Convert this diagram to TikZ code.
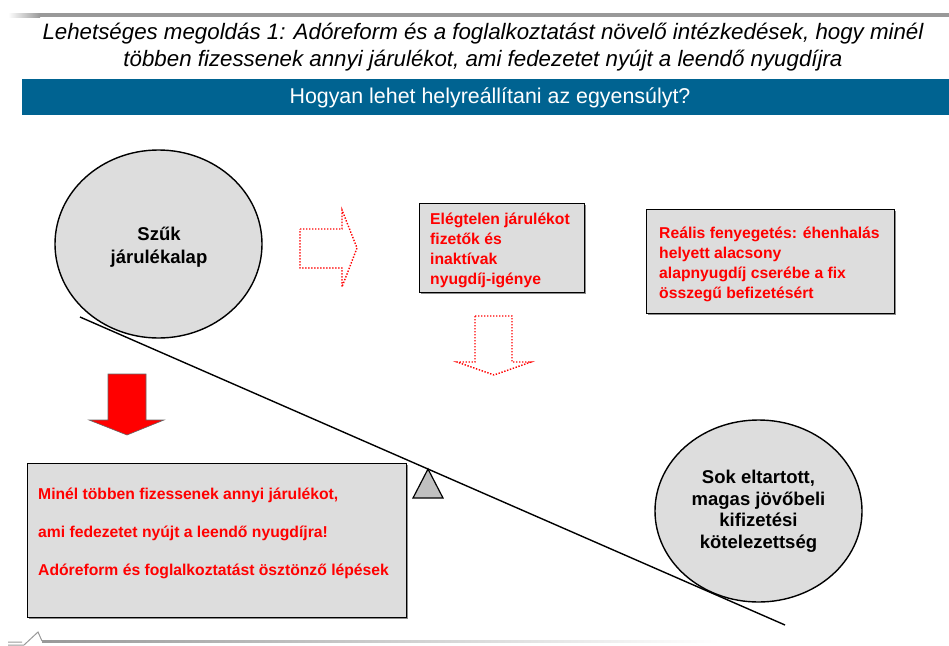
\documentclass[tikz,border=0pt]{standalone}
\usepackage{fontspec}
\setmainfont{Liberation Sans}
\usetikzlibrary{shapes.geometric}
\definecolor{boxgray}{HTML}{DDDDDD}
\definecolor{barblue}{RGB}{0,99,145}
\definecolor{rulegray}{HTML}{999999}
\definecolor{fulcgray}{HTML}{C0C0C0}
\begin{document}
\begin{tikzpicture}[x=1pt,y=-1pt,
  bubble/.style={ellipse,draw=black,line width=1.4pt,fill=boxgray,inner sep=0pt,align=center,
    font=\fontsize{18.5}{21.5}\selectfont\bfseries},
  infobox/.style={draw=black,line width=1.4pt,fill=boxgray,inner sep=0pt,anchor=north west},
  redtext/.style={text=red,font=\fontsize{15.7}{20}\selectfont\bfseries,align=left,anchor=west,inner sep=0pt},
  dotarrow/.style={draw=red,line width=1.4pt,dash pattern=on 1.4pt off 1.6pt},
  shadowbox/.style={fill=black!45}
]
\useasboundingbox (0,0) rectangle (949,645);
% top rule
\shade[left color=white,right color=rulegray] (8,13) rectangle (40,17);
\fill[rulegray] (40,13) rectangle (949,17);
% title
\node (title1) at (483,34) {\fontsize{22.3}{26}\selectfont\itshape Lehetséges megoldás 1: Adóreform és a foglalkoztatást növelő intézkedések, hogy minél};
\node (title2) at (483,61) {\fontsize{22.3}{26}\selectfont\itshape többen fizessenek annyi járulékot, ami fedezetet nyújt a leendő nyugdíjra};
% blue bar
\fill[barblue] (22,79) rectangle (949,115);
\node[text=white] (question) at (490,98) {\fontsize{21.4}{24}\selectfont Hogyan lehet helyreállítani az egyensúlyt?};
% circles
\node[bubble,minimum width=207,minimum height=188] (narrow) at (158.5,244) {};
\node[align=center,font=\fontsize{18.5}{23}\selectfont\bfseries,inner sep=0pt] (narrowtext) at (159,247.5) {Szűk\\járulékalap};
\node[bubble,minimum width=207,minimum height=182] (many) at (758.5,511) {Sok eltartott,\\magas jövőbeli\\kifizetési\\kötelezettség};
% beam and fulcrum
\coordinate (beamL) at (80,317);
\coordinate (beamR) at (785,625);
\draw[line width=1.4pt] (beamL) -- (beamR);
\draw[line width=1.2pt,fill=fulcgray] (428,469) -- (443,498) -- (413,498) -- cycle;
% red solid arrow
\draw[draw=black!60,line width=0.6pt,fill=red] (108,374) -- (146,374) -- (146,420) -- (164,420) -- (127,435) -- (89,420) -- (108,420) -- cycle;
% bottom-left box
\fill[shadowbox] (29,465) rectangle (408,619);
\node[infobox,minimum width=379,minimum height=154] (solution) at (27,463) {};
\node[redtext] (sol1) at (38,495) {Minél többen fizessenek annyi járulékot,};
\node[redtext] (sol2) at (38,533) {ami fedezetet nyújt a leendő nyugdíjra!};
\node[redtext] (sol3) at (38,571) {Adóreform és foglalkoztatást ösztönző lépések};
% middle box
\fill[shadowbox] (421,205) rectangle (586,294);
\node[infobox,minimum width=165,minimum height=89] (insuff) at (419,203) {};
\node[redtext] (ins) at (430,250.5) {Elégtelen járulékot\\fizetők és\\inaktívak\\nyugdíj-igénye};
% right box
\fill[shadowbox] (648,211) rectangle (896,315);
\node[infobox,minimum width=248,minimum height=104] (threat) at (646,209) {};
\node[redtext] (thr) at (659,264.5) {Reális fenyegetés: éhenhalás\\helyett alacsony\\alapnyugdíj cserébe a fix\\összegű befizetésért};
% dotted arrows
\draw[dotarrow] (300,229) -- (342,229) -- (342,210) -- (357,248) -- (342,287) -- (342,268) -- (300,268) -- cycle;
\draw[dotarrow] (475,316) -- (512,316) -- (512,362) -- (531,362) -- (494,375) -- (457,362) -- (475,362) -- cycle;
% bottom rule and logo
\shade[left color=rulegray,right color=white] (42,640) rectangle (720,642);
\draw[rulegray,line width=1pt] (8,642) -- (22,642) (8,645) -- (24,645) -- (38,632) -- (42,641);
\end{tikzpicture}
\end{document}
